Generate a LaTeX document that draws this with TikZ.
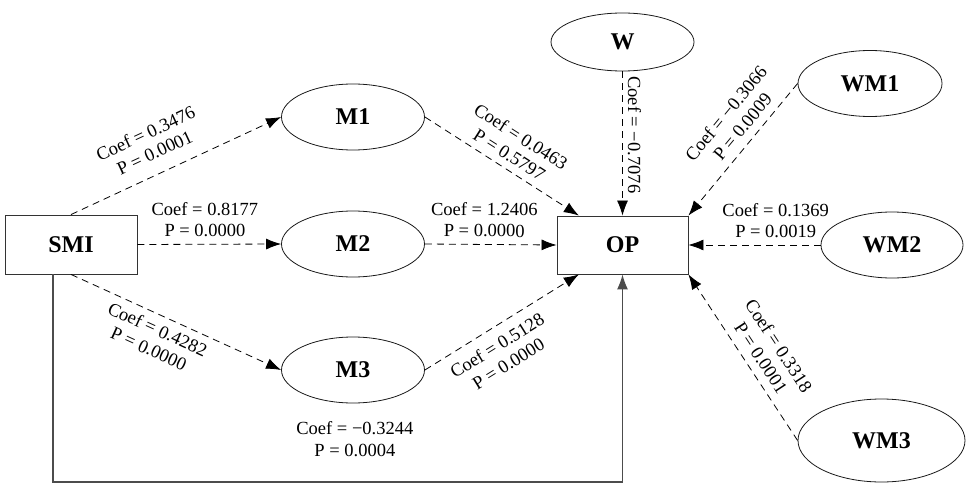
\documentclass[tikz,border=0pt]{standalone}
\usepackage{fontspec}
\setmainfont{Liberation Serif}
\usetikzlibrary{shapes.geometric,arrows.meta}
\begin{document}
\begin{tikzpicture}[x=1pt,y=-1pt,
  obs/.style={shape=rectangle,draw=black!80,line width=0.9pt,inner sep=0pt,font=\fontsize{24}{26}\selectfont\bfseries},
  lat/.style={shape=ellipse,draw=black!90,line width=0.8pt,inner sep=0pt,font=\fontsize{24}{26}\selectfont\bfseries},
  dashlink/.style={dash pattern=on 7pt off 5pt,line width=0.8pt,-{Latex[length=15pt,width=11pt]}},
  coef/.style={font=\fontsize{18.5}{21.3}\selectfont,align=center,inner sep=2pt,sloped}]
\useasboundingbox (0,0) rectangle (966,484);
\node(SMI) at (71,244.5)[obs,minimum width=132pt,minimum height=59pt]        {SMI};
\node(M1) at (353,117)[lat,minimum width=143pt,minimum height=66pt]         {M1};
\node(M2) at (353,244)[lat,minimum width=143pt,minimum height=66pt]         {M2};
\node(M3) at (353,370)[lat,minimum width=143pt,minimum height=66pt]         {M3};
\node(OP) at (622.5,245)[obs,minimum width=131pt,minimum height=58pt]       {OP};
\node(W) at (622.5,42)[lat,minimum width=143pt,minimum height=58pt]         {W};
\node(WM1) at (870,83.5)[lat,minimum width=144pt,minimum height=66pt]       {WM1};
\node(WM2) at (892,245)[lat,minimum width=142pt,minimum height=66pt]        {WM2};
\node(WM3) at (881.5,440.5)[lat,minimum width=167pt,minimum height=83pt]    {WM3};
\coordinate(corner) at (53,482);
\path [dashlink]
  (SMI.north)  edge  node [coef,above=12pt,pos=0.44] {Coef = 0.3476\\P = 0.0001}  (M1.west)
  (SMI.east)   edge  node [coef,above=5pt,pos=0.47]  {Coef = 0.8177\\P = 0.0000}  (M2.west)
  (SMI.south)  edge  node [coef,below=5pt,pos=0.44]  {Coef = 0.4282\\P = 0.0000}  (M3.west)
  (M1.east)    edge  node [coef,above=5pt]           {Coef = 0.0463\\P = 0.5797}  (OP.146)
  (M2.east)    edge  node [coef,above=5pt,pos=0.45]  {Coef = 1.2406\\P = 0.0000}  (OP.west)
  (M3.east)    edge  node [coef,below=8pt,pos=0.41]  {Coef = 0.5128\\P = 0.0000}  (OP.214)
  (W.south)    edge  node [coef,above=3pt,pos=0.44]  {Coef = −0.7076}             (OP.north)
  (WM1.west)   edge  node [coef,above=6pt,pos=0.4]   {Coef = −0.3066\\P = 0.0009} (OP.north east)
  (WM2.west)   edge  node [coef,above=5pt,pos=0.34]  {Coef = 0.1369\\P = 0.0019}  (OP.east)
  (WM3.west)   edge  node [coef,above=6pt,pos=0.45]  {Coef = 0.3318\\P = 0.0001}  (OP.south east);
\draw [line width=1.2pt,draw=black!70,-{Latex[length=15pt,width=11pt]}]
  (SMI.south -| corner) -- (corner) -| node(direct) [coef,above=23pt,pos=0.265] {Coef = −0.3244\\P = 0.0004} (OP.south);
\end{tikzpicture}
\end{document}
